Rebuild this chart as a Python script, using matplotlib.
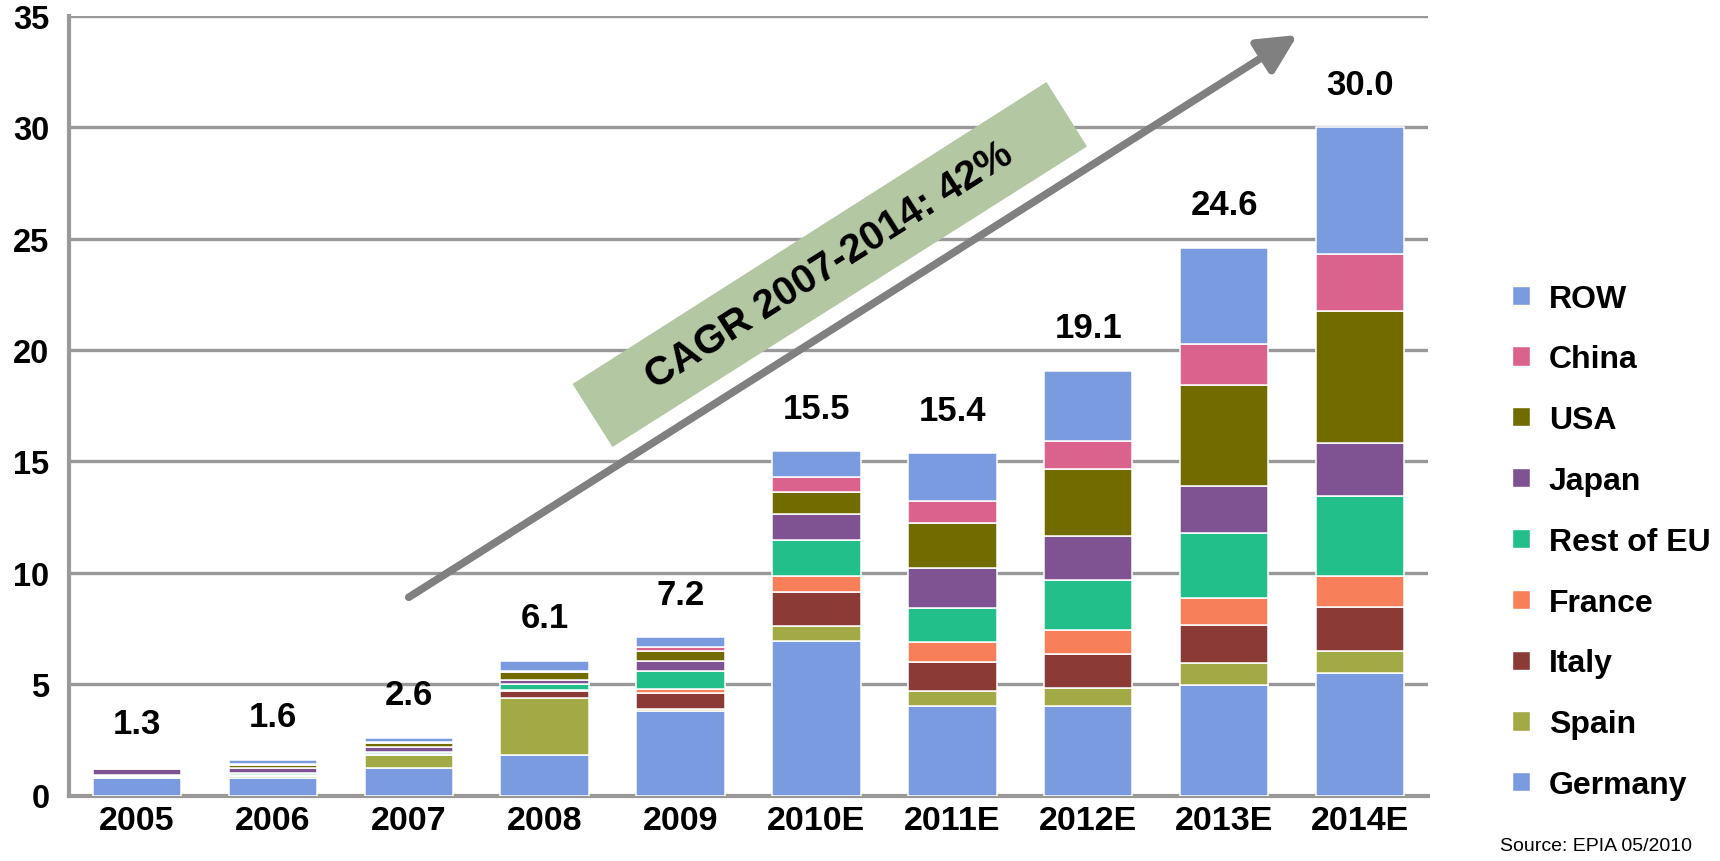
import numpy as np
import matplotlib
matplotlib.use('Agg')
import matplotlib.pyplot as plt
from matplotlib.patches import Polygon, Patch
from matplotlib import font_manager

plt.rcParams['font.family'] = ['Liberation Sans', 'DejaVu Sans']

# data (GW)
years = ['2005', '2006', '2007', '2008', '2009', '2010E', '2011E', '2012E', '2013E', '2014E']
germany = [0.80, 0.78, 1.25, 1.80, 3.80, 6.95, 4.00, 4.00, 4.98, 5.50]
spain   = [0.05, 0.09, 0.55, 2.60, 0.10, 0.65, 0.71, 0.81, 0.98, 1.00]
italy   = [0.02, 0.02, 0.03, 0.27, 0.68, 1.52, 1.27, 1.53, 1.71, 1.98]
france  = [0.02, 0.02, 0.02, 0.05, 0.20, 0.75, 0.90, 1.08, 1.18, 1.39]
rest_eu = [0.05, 0.10, 0.12, 0.30, 0.80, 1.62, 1.54, 2.27, 2.92, 3.59]
japan   = [0.25, 0.22, 0.20, 0.18, 0.45, 1.15, 1.80, 1.98, 2.14, 2.35]
usa     = [0.05, 0.14, 0.20, 0.34, 0.45, 1.00, 2.00, 3.00, 4.54, 5.94]
china   = [0.02, 0.05, 0.05, 0.05, 0.18, 0.65, 0.99, 1.26, 1.82, 2.58]
row     = [0.06, 0.18, 0.18, 0.45, 0.45, 1.16, 2.16, 3.15, 4.33, 5.67]
total_labels = ['1.3', '1.6', '2.6', '6.1', '7.2', '15.5', '15.4', '19.1', '24.6', '30.0']

series = [('Germany', germany, '#7A9BE0'),
          ('Spain', spain, '#A2AA45'),
          ('Italy', italy, '#8B3A36'),
          ('France', france, '#F77F5A'),
          ('Rest of EU', rest_eu, '#22BF8A'),
          ('Japan', japan, '#7F5292'),
          ('USA', usa, '#726C00'),
          ('China', china, '#DA628C'),
          ('ROW', row, '#7A9BE0')]

names = {f.name for f in font_manager.fontManager.ttflist}
narrow = 'Liberation Sans Narrow' if 'Liberation Sans Narrow' in names else 'Liberation Sans'

W, H = 1720, 862
fig = plt.figure(figsize=(W / 100, H / 100), dpi=100)
ax = fig.add_axes([69 / W, 1 - 796.5 / H, (1428 - 69) / W, (796.5 - 17) / H])

x = np.arange(len(years))
bottom = np.zeros(len(years))
for name, vals, col in series:
    ax.bar(x, vals, 0.65, bottom=bottom, color=col, edgecolor='white', linewidth=1.1, zorder=3)
    bottom += np.array(vals)

for i, t in enumerate(total_labels):
    ax.annotate(t, (x[i], bottom[i]), xytext=(0, 31), textcoords='offset points',
                ha='center', va='center', fontsize=25, fontweight='bold', family=narrow)

ax.set_xlim(-0.5, len(years) - 0.5)
ax.set_ylim(0, 35)
ax.set_yticks(range(0, 36, 5))
ax.set_xticks(x)
ax.set_xticklabels(years)
ax.yaxis.grid(True, color='#999999', lw=2.4)
ax.set_axisbelow(True)
for s in ['top', 'right']:
    ax.spines[s].set_visible(False)
for s in ['left', 'bottom']:
    ax.spines[s].set_color('#999999')
    ax.spines[s].set_linewidth(3)
ax.tick_params(axis='both', length=0)
ax.tick_params(axis='y', pad=14, labelsize=23.5)
ax.tick_params(axis='x', pad=7, labelsize=24.5)
for lbl in ax.get_xticklabels() + ax.get_yticklabels():
    lbl.set_fontweight('bold')

# CAGR arrow and box
ax.annotate('', xy=(8.54, 34.15), xytext=(2.0, 8.9),
            arrowprops=dict(arrowstyle='-|>,head_length=0.9,head_width=0.45', color='#808080',
                            lw=5.5, mutation_scale=26, shrinkA=0, shrinkB=0),
            annotation_clip=False, zorder=5)
corners = [(572.5, 385), (612.5, 448), (1087, 147.5), (1046.5, 83)]
box = Polygon([(cx / W, 1 - cy / H) for cx, cy in corners], closed=True,
              transform=fig.transFigure, facecolor='#B3C7A3', edgecolor='none', zorder=4)
fig.add_artist(box)
fig.text(829.6 / W, 1 - 265.9 / H, 'CAGR 2007-2014: 42%', rotation=32.5, rotation_mode='anchor',
         ha='center', va='center', fontsize=29, fontweight='bold', family=narrow, zorder=6)

handles = [Patch(facecolor=col, edgecolor='white') for _, _, col in series][::-1]
labels = [n for n, _, _ in series][::-1]
ax.legend(handles, labels, loc='upper left', bbox_to_anchor=(1512 / W, 1 - 284.5 / H),
          bbox_transform=fig.transFigure, frameon=False, prop={'weight': 'bold', 'size': 23},
          handlelength=0.55, handleheight=0.55, handletextpad=0.6, labelspacing=0.965,
          borderpad=0, borderaxespad=0)

fig.text(1500 / W, 1 - 847 / H, 'Source: EPIA 05/2010', fontsize=14, ha='left', va='center')

fig.savefig('out.png', dpi=100)
